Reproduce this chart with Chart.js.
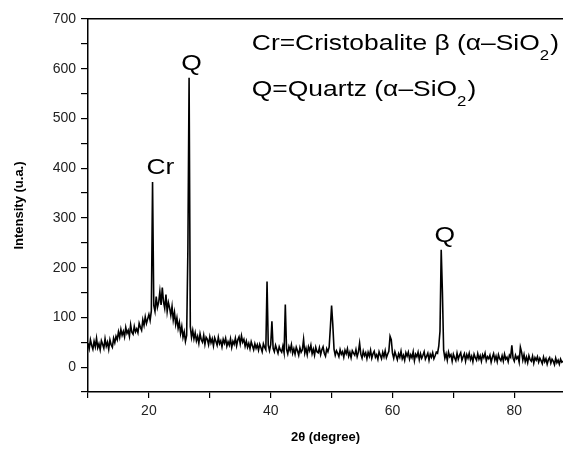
<!DOCTYPE html>
<html lang="en">
  <head>
    <meta charset="UTF-8" />
    <script src="https://cdn.jsdelivr.net/npm/chart.js@4.4.1/dist/chart.umd.min.js"></script>
    <title>XRD</title>
    <style>
      html, body { margin: 0; padding: 0; background: #fff; }
      .container { width: 563px; height: 449px; }
    </style>
  </head>
  <body>
    <div class="container">
      <canvas id="myChart" width="563" height="449"></canvas>
    </div>
    <script>
      // scan settings (2theta grid)
      const twoThetaStart = 10;
      const twoThetaStep = 0.2;

      // intensity, one row = 2 degrees
      const intensity = [
        48, 37, 55, 44, 36, 52, 41, 58, 39, 47,
        35, 53, 46, 38, 57, 42, 50, 36, 55, 45,
        40, 58, 49, 62, 55, 71, 60, 76, 64, 72,
        61, 80, 68, 74, 62, 85, 70, 66, 82, 71,
        77, 69, 88, 80, 74, 95, 84, 101, 88, 97,
        106, 94, 113, 372, 124, 112, 142, 120, 130, 152,
        125, 160, 131, 118, 146, 112, 130, 119, 104, 122,
        95, 110, 86, 99, 78, 90, 68, 82, 60, 71,
        52, 64, 235, 582, 82, 60, 74, 57, 69, 53,
        62, 48, 67, 55, 50, 64, 46, 60, 56, 45,
        61, 49, 57, 43, 59, 52, 44, 60, 47, 53,
        41, 56, 48, 58, 42, 51, 44, 57, 40, 52,
        46, 58, 43, 55, 61, 47, 63, 50, 56, 42,
        52, 40, 48, 37, 51, 43, 35, 47, 38, 45,
        34, 46, 39, 31, 47, 40, 35, 172, 44, 33,
        45, 92, 38, 31, 44, 36, 28, 41, 34, 30,
        42, 29, 126, 36, 27, 41, 33, 45, 28, 37,
        26, 40, 33, 24, 39, 30, 35, 56, 28, 38,
        25, 41, 33, 44, 27, 36, 24, 40, 31, 29,
        39, 25, 35, 41, 28, 22, 37, 31, 40, 80,
        124, 85, 36, 24, 33, 28, 21, 35, 26, 31,
        20, 34, 27, 37, 22, 30, 19, 33, 28, 24,
        35, 21, 30, 48, 26, 18, 32, 23, 29, 17,
        30, 22, 34, 18, 27, 32, 20, 25, 16, 31,
        24, 17, 30, 21, 33, 19, 26, 32, 62, 55,
        28, 18, 31, 23, 15, 27, 20, 32, 17, 24,
        14, 29, 22, 30, 16, 25, 19, 31, 13, 26,
        21, 30, 15, 27, 18, 24, 31, 16, 22, 28,
        14, 26, 20, 29, 17, 23, 30, 28, 42, 72,
        236, 150, 34, 18, 27, 14, 30, 21, 25, 12,
        26, 19, 13, 28, 16, 24, 29, 14, 21, 27,
        12, 25, 18, 28, 15, 22, 11, 26, 19, 14,
        27, 16, 23, 12, 25, 19, 28, 13, 21, 17,
        24, 10, 20, 27, 14, 22, 11, 25, 17, 13,
        23, 12, 26, 16, 20, 11, 24, 20, 44, 18,
        12, 24, 17, 21, 10, 40, 30, 14, 25, 11,
        20, 9, 23, 15, 12, 22, 8, 19, 14, 21,
        10, 18, 13, 7, 20, 11, 17, 6, 15, 19,
        8, 16, 12, 5, 18, 9, 14, 6, 16, 10,
        12
      ];

      // axis ranges and labelled ticks
      const xMin = 10, xMax = 88;
      const yMin = -50, yMax = 700;
      const xLabelTicks = [20, 40, 60, 80];
      const yLabelTicks = [0, 100, 200, 300, 400, 500, 600, 700];

      // peak labels
      const peakLabels = ["Cr", "Q", "Q"];
      const peakLabelX = [21.9, 27.0, 68.6];
      const peakLabelY = [388, 597, 251];

      const points = intensity.map((v, i) => ({
        x: +(twoThetaStart + i * twoThetaStep).toFixed(1),
        y: v,
      }));

      const font = "'Liberation Sans', Arial, sans-serif";
      const stretch = 1.2; // text in the original is a bit wide

      const annotate = {
        id: "annotate",
        afterDatasetsDraw(chart) {
          const ctx = chart.ctx;
          const xs = chart.scales.x;
          const ys = chart.scales.y;
          ctx.save();
          ctx.fillStyle = "#000";
          ctx.textBaseline = "alphabetic";
          ctx.font = "22px " + font;
          ctx.textAlign = "center";
          for (let i = 0; i < peakLabels.length; i++) {
            ctx.save();
            ctx.translate(xs.getPixelForValue(peakLabelX[i]), ys.getPixelForValue(peakLabelY[i]));
            ctx.scale(stretch, 1);
            ctx.fillText(peakLabels[i], 0, 0);
            ctx.restore();
          }
          // key text with subscripts
          ctx.textAlign = "left";
          const lines = [
            ["Cr=Cristobalite \u03b2 (\u03b1\u2013SiO", ")", 638],
            ["Q=Quartz (\u03b1\u2013SiO", ")", 545],
          ];
          const left = xs.getPixelForValue(36.9);
          lines.forEach((l) => {
            ctx.save();
            ctx.translate(left, ys.getPixelForValue(l[2]));
            ctx.scale(stretch, 1);
            ctx.font = "22px " + font;
            ctx.fillText(l[0], 0, 0);
            let w = ctx.measureText(l[0]).width;
            ctx.font = "14px " + font;
            ctx.fillText("2", w, 10);
            w += ctx.measureText("2").width + 1;
            ctx.font = "22px " + font;
            ctx.fillText(l[1], w, 0);
            ctx.restore();
          });
          ctx.restore();
        },
      };

      const ctx = document.getElementById("myChart").getContext("2d");
      new Chart(ctx, {
        type: "line",
        data: {
          datasets: [
            {
              data: points,
              borderColor: "#000",
              borderWidth: 1.6,
              pointRadius: 0,
              tension: 0,
              fill: false,
            },
          ],
        },
        options: {
          responsive: false,
          animation: false,
          layout: { padding: { top: 19, right: 0, left: 0, bottom: 0 } },
          plugins: { legend: { display: false }, tooltip: { enabled: false } },
          scales: {
            x: {
              type: "linear",
              min: xMin,
              max: xMax,
              afterFit(scale) { scale.height = 57; },
              border: { display: true, color: "#000", width: 1.5 },
              grid: { drawOnChartArea: false, color: "#000", tickLength: 6, lineWidth: 1.2 },
              ticks: {
                stepSize: 10,
                includeBounds: false,
                maxRotation: 0,
                autoSkip: false,
                padding: 5,
                color: "#222",
                font: { family: font, size: 14 },
                callback: (v) => (xLabelTicks.includes(v) ? v : ""),
              },
              title: {
                display: true,
                text: "2\u03b8 (degree)",
                color: "#000",
                font: { family: font, size: 13, weight: "bold" },
                padding: { top: 0, bottom: 4 },
              },
            },
            x2: {
              type: "linear",
              position: "top",
              min: xMin,
              max: xMax,
              afterFit(scale) { scale.height = 0; },
              border: { display: true, color: "#000", width: 1.5 },
              grid: { display: false },
              ticks: { display: false },
            },
            y: {
              min: yMin,
              max: yMax,
              afterFit(scale) { scale.width = 88; },
              border: { display: true, color: "#000", width: 1.5 },
              grid: { drawOnChartArea: false, color: "#000", tickLength: 7, lineWidth: 1.2 },
              ticks: {
                stepSize: 50,
                autoSkip: false,
                padding: 5,
                color: "#222",
                font: { family: font, size: 14 },
                callback: (v) => (yLabelTicks.includes(v) ? v : ""),
              },
              title: {
                display: true,
                text: "Intensity (u.a.)",
                color: "#000",
                font: { family: font, size: 13, weight: "bold" },
                padding: { top: 12, bottom: 0 },
              },
            },
          },
        },
        plugins: [annotate],
      });
    </script>
  </body>
</html>
